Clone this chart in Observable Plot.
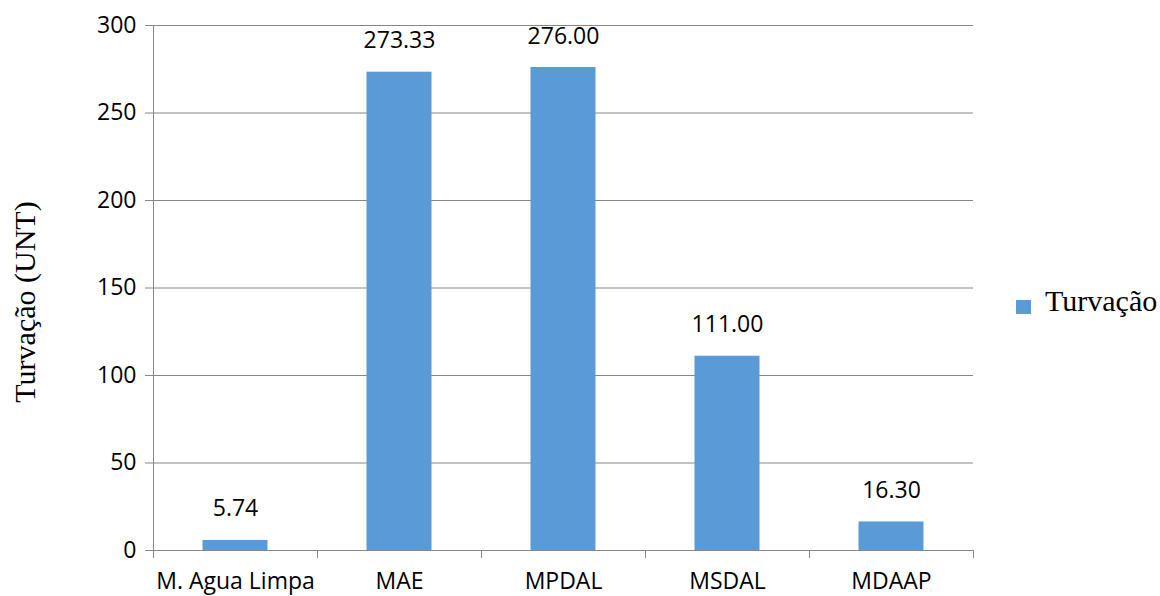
<!DOCTYPE html>
<html>
<head>
<meta charset="utf-8">
<script src="https://cdn.jsdelivr.net/npm/d3@7"></script>
<script src="https://cdn.jsdelivr.net/npm/@observablehq/plot@0.6"></script>
<style>
  html, body { margin: 0; padding: 0; background: #fff; }
  #wrap { position: relative; width: 1160px; height: 596px; }
  #legend { position: absolute; left: 1016px; top: 284px; display: flex; align-items: center;
            font-family: "Liberation Serif", "Times New Roman", serif; font-size: 30px; color: #000; }
  #legend .sw { width: 15px; height: 14px; background: #5B9BD5; margin-right: 14px; margin-top: 12px; }
</style>
</head>
<body>
<div id="wrap"></div>
<script>
const categories = ["M. Agua Limpa", "MAE", "MPDAL", "MSDAL", "MDAAP"];
const values = [5.74, 273.33, 276.00, 111.00, 16.30];
const yTicks = [0, 50, 100, 150, 200, 250, 300];
const seriesName = "Turvação";
const yTitle = "Turvação (UNT)";

const data = categories.map((c, i) => ({cat: c, val: values[i]}));

const W = 1160, H = 596;
const mL = 153, mR = 187, mT = 25, mB = 46;
const half = (W - mL - mR) / categories.length / 2;
const grey = "#868686";
const sans = "'Open Sans', sans-serif";

const chart = Plot.plot({
  width: W, height: H,
  marginLeft: mL, marginRight: mR, marginTop: mT, marginBottom: mB,
  style: {fontFamily: sans, background: "#fff", color: "#000"},
  x: {type: "band", domain: categories, padding: 0},
  y: {domain: [0, 300]},
  marks: [
    Plot.gridY(yTicks, {stroke: grey, strokeOpacity: 1, strokeWidth: 1}),
    Plot.axisY({ticks: yTicks, tickSize: 8, tickPadding: 9, stroke: grey, fontSize: 23, fill: "#000", label: null}),
    Plot.barY(data, {x: "cat", y: "val", fill: "#5B9BD5", insetLeft: 49.5, insetRight: 49.5}),
    Plot.frame({anchor: "left", stroke: grey}),
    Plot.ruleY([0], {stroke: grey}),
    Plot.ruleX(categories, {x: d => d, y1: 0, y2: 0, dx: -half, insetBottom: -8, stroke: grey}),
    Plot.ruleX(categories.slice(-1), {x: d => d, y1: 0, y2: 0, dx: half, insetBottom: -8, stroke: grey}),
    Plot.axisX({tickSize: 0, tickPadding: 22, fontSize: 23, fill: "#000", label: null}),
    Plot.text(data, {x: "cat", y: "val", text: d => d.val.toFixed(2), lineAnchor: "bottom", dy: -24, fontSize: 23, fill: "#000"}),
    Plot.text([yTitle], {frameAnchor: "left", textAnchor: "middle", rotate: -90, dx: -128, dy: 14, fontSize: 30,
      fontFamily: "'Liberation Serif', 'Times New Roman', serif", fill: "#000"})
  ]
});

const wrap = document.getElementById("wrap");
wrap.appendChild(chart);
const legend = document.createElement("div");
legend.id = "legend";
legend.innerHTML = `<div class="sw"></div><span>${seriesName}</span>`;
wrap.appendChild(legend);
</script>
</body>
</html>
